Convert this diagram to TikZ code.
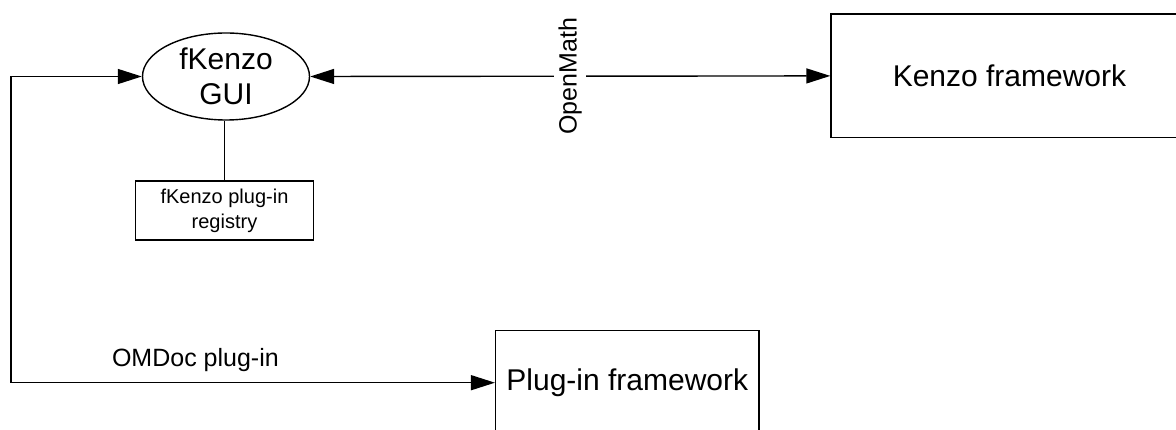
\documentclass[tikz,border=0pt]{standalone}
\usepackage{fontspec}
\setmainfont{Liberation Sans}
\usetikzlibrary{arrows.meta,shapes.geometric}
\tikzset{
  conn/.style={line width=1.4pt, draw=black, >={Triangle[length=24pt,width=15pt]}},
  bigbox/.style={draw, line width=1.4pt, rectangle, inner sep=0pt,
    font=\fontsize{30}{35}\selectfont},
  smallbox/.style={draw, line width=1.4pt, rectangle, inner sep=0pt, align=center,
    font=\fontsize{20}{25}\selectfont},
  oval/.style={draw, line width=1.4pt, ellipse, inner sep=0pt, align=center,
    font=\fontsize{30}{35}\selectfont},
  lbl/.style={font=\fontsize{25}{30}\selectfont}
}
\begin{document}
\begin{tikzpicture}[x=1pt,y=-1pt]
  \useasboundingbox (0,0) rectangle (1176,430);
  \clip (0,0) rectangle (1176,430);

  % components
  \node[oval, minimum width=167pt, minimum height=87pt] (gui) at (226,76.5) {fKenzo\\GUI};
  \node[smallbox, minimum width=178pt, minimum height=59pt] (reg) at (224.5,210.5) {fKenzo plug-in\\registry};
  \node[bigbox, minimum width=357pt, minimum height=123.7pt] (kenzo) at (1009.5,75.9) {Kenzo framework};
  \node[bigbox, minimum width=263.3pt, minimum height=104pt] (plug) at (627.3,382.7) {Plug-in framework};

  % GUI to registry
  \draw[conn] (reg.north) -- (reg.north |- gui.south);

  % OpenMath link between GUI and Kenzo
  \draw[conn, <->] (gui.east) -- (kenzo.west)
    node[midway, rotate=90, fill=white, inner xsep=0pt, inner ysep=4.5pt, lbl] (om) {OpenMath};

  % OMDoc plug-in link between GUI and plug-in framework
  \coordinate (c1) at (11,76.5);
  \coordinate (c2) at (11,382.7);
  \draw[conn, <->] (gui.west) -- (c1) -- (c2) -- (plug.west);
  \node[lbl, anchor=base] (omdoc) at (195.4,366.7) {OMDoc plug-in};
\end{tikzpicture}
\end{document}
